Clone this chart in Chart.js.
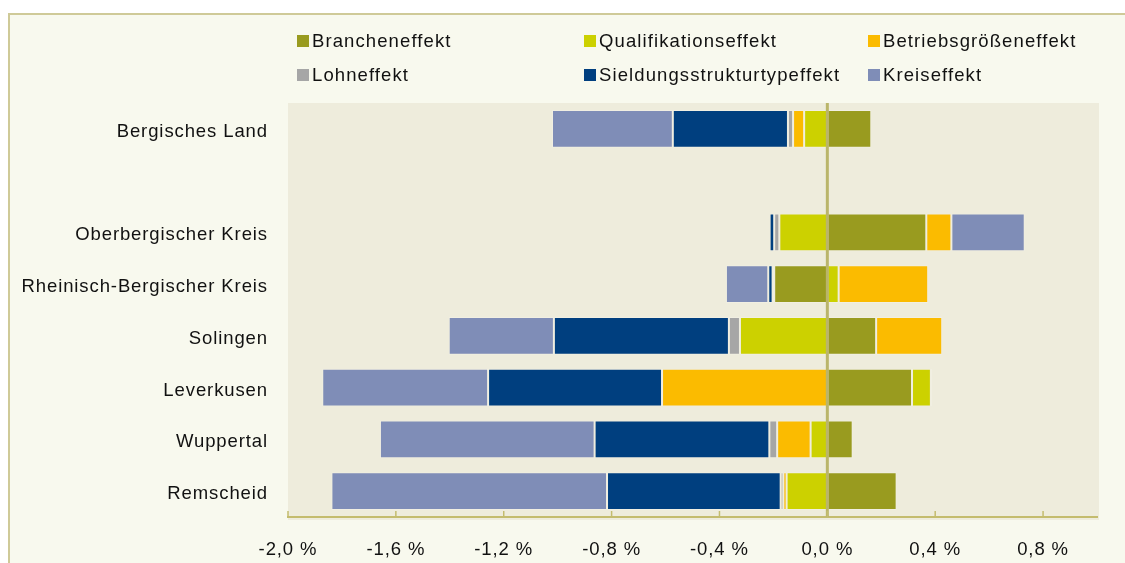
<!DOCTYPE html>
<html lang="de">
<head>
    <meta charset="UTF-8">
    <title>Effekte Bergisches Land</title>
    <script src="https://cdn.jsdelivr.net/npm/chart.js"></script>
    <style>
        body, html {
            margin: 0;
            padding: 0;
            background: #ffffff;
            font-family: "Liberation Sans", Arial, sans-serif;
        }
        #wrap {
            position: relative;
            width: 1125px;
            height: 563px;
            overflow: hidden;
        }
        #frame {
            position: absolute;
            left: 8px;
            top: 13px;
            width: 1140px;
            height: 600px;
            border: 2px solid #cfca98;
            background: #f8f9ee;
        }
        #chart {
            position: absolute;
            left: 0;
            top: 0;
        }
        #legend {
            position: absolute;
            left: 0;
            top: 0;
            width: 1125px;
            height: 100px;
        }
        .item {
            position: absolute;
            display: flex;
            align-items: center;
            font-size: 18.5px;
            letter-spacing: 1.1px;
            color: #111;
            white-space: nowrap;
            height: 22px;
        }
        .box {
            width: 12px;
            height: 12px;
            margin-right: 3px;
        }
    </style>
</head>
<body>
    <div id="wrap">
        <div id="frame"></div>
        <canvas id="chart" width="1125" height="563"></canvas>
        <div id="legend"></div>
    </div>

    <script>
        // regions, top to bottom (empty slot = gap below Bergisches Land)
        const regions = ['Bergisches Land', '', 'Oberbergischer Kreis', 'Rheinisch-Bergischer Kreis',
                         'Solingen', 'Leverkusen', 'Wuppertal', 'Remscheid'];

        // effects in percent
        const branche       = [0.163, null, 0.367, -0.197, 0.181, 0.314, 0.094, 0.257];
        const qualifikation = [-0.086, null, -0.178, 0.042, -0.324, 0.070, -0.062, -0.151];
        const betriebsgroesse = [-0.041, null, 0.093, 0.332, 0.245, -0.613, -0.124, -0.012];
        const lohn          = [-0.019, null, -0.019, -0.006, -0.041, 0.005, -0.029, -0.010];
        const siedlung      = [-0.427, null, -0.017, -0.016, -0.649, -0.645, -0.648, -0.644];
        const kreis         = [-0.448, null, 0.272, -0.157, -0.390, -0.615, -0.796, -1.022];

        const seriesNames = ['Brancheneffekt', 'Qualifikationseffekt', 'Betriebsgrößeneffekt',
                             'Lohneffekt', 'Sieldungsstrukturtypeffekt', 'Kreiseffekt'];
        const seriesData = [branche, qualifikation, betriebsgroesse, lohn, siedlung, kreis];
        const seriesColors = ['#999b1f', '#ccd100', '#fbbb00', '#a6a6a6', '#003f7f', '#7f8db7'];

        const xTicks = [-2.0, -1.6, -1.2, -0.8, -0.4, 0.0, 0.4, 0.8];

        const axisColor = '#c4bc6e';
        const fontFamily = '"Liberation Sans", Arial, sans-serif';

        // legend in three columns like the original
        const legendCols = [297, 584, 868];
        const legendRows = [30, 64];
        const legend = document.getElementById('legend');
        seriesNames.forEach((name, i) => {
            const item = document.createElement('div');
            item.className = 'item';
            item.style.left = legendCols[i % 3] + 'px';
            item.style.top = legendRows[Math.floor(i / 3)] + 'px';
            const box = document.createElement('span');
            box.className = 'box';
            box.style.background = seriesColors[i];
            item.appendChild(box);
            item.appendChild(document.createTextNode(name));
            legend.appendChild(item);
        });

        // the original text is a bit wider than Arial, so spread the letters
        const spacing = {
            id: 'spacing',
            beforeLayout(chart) { chart.ctx.letterSpacing = '0.9px'; },
            beforeDraw(chart) { chart.ctx.letterSpacing = '0.9px'; }
        };

        // plot background + zero line + small axis ticks
        const decor = {
            id: 'decor',
            beforeDraw(chart) {
                const a = chart.chartArea;
                const ctx = chart.ctx;
                ctx.save();
                ctx.fillStyle = '#eeecdc';
                ctx.fillRect(a.left, a.top, a.right - a.left + 2, a.bottom - a.top + 3);
                ctx.restore();
            },
            afterDatasetsDraw(chart) {
                const a = chart.chartArea;
                const x = chart.scales.x;
                const ctx = chart.ctx;
                ctx.save();
                ctx.strokeStyle = '#bab56a';
                ctx.lineWidth = 3;
                const zx = x.getPixelForValue(0);
                ctx.beginPath();
                ctx.moveTo(zx, a.top);
                ctx.lineTo(zx, a.bottom);
                ctx.stroke();
                ctx.strokeStyle = axisColor;
                ctx.lineWidth = 1.5;
                x.ticks.forEach(t => {
                    const px = x.getPixelForValue(t.value);
                    ctx.beginPath();
                    ctx.moveTo(px, a.bottom - 6);
                    ctx.lineTo(px, a.bottom);
                    ctx.stroke();
                });
                ctx.restore();
            }
        };

        new Chart(document.getElementById('chart'), {
            type: 'bar',
            data: {
                labels: regions,
                datasets: seriesNames.map((name, i) => ({
                    label: name,
                    data: seriesData[i],
                    backgroundColor: seriesColors[i],
                    borderColor: 'rgba(255,255,255,0.18)',
                    borderWidth: 1,
                    borderSkipped: false,
                    barPercentage: 0.73,
                    categoryPercentage: 1.0
                }))
            },
            options: {
                indexAxis: 'y',
                responsive: false,
                animation: false,
                devicePixelRatio: 1,
                layout: {
                    padding: { top: 103, right: 28, bottom: 0, left: 0 }
                },
                plugins: {
                    legend: { display: false },
                    tooltip: { enabled: false }
                },
                scales: {
                    x: {
                        stacked: true,
                        min: -2.0,
                        max: 1.0,
                        afterBuildTicks: s => { s.ticks = xTicks.map(v => ({ value: v })); },
                        afterFit: s => { s.height = 46; },
                        grid: { display: false, drawTicks: false },
                        border: { display: true, color: axisColor, width: 2 },
                        ticks: {
                            padding: 22,
                            color: '#111',
                            font: { family: fontFamily, size: 18.5 },
                            callback: v => v.toFixed(1).replace('.', ',') + ' %'
                        }
                    },
                    y: {
                        stacked: true,
                        afterFit: s => { s.width = 288; },
                        grid: { display: false, drawTicks: false },
                        border: { display: false },
                        ticks: {
                            padding: 20,
                            labelOffset: 3,
                            color: '#111',
                            font: { family: fontFamily, size: 18.5 }
                        }
                    }
                }
            },
            plugins: [spacing, decor]
        });
    </script>
</body>
</html>
